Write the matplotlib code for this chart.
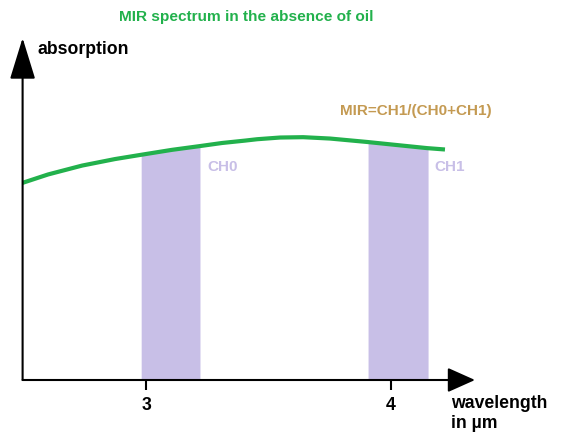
import numpy as np
import matplotlib
matplotlib.use('Agg')
import matplotlib.pyplot as plt

plt.rcParams['font.family'] = ['Liberation Sans', 'DejaVu Sans']

# spectrum (wavelength in um, relative absorption)
wavelength = [2.494, 2.600, 2.739, 2.873, 2.984, 3.106, 3.220, 3.310, 3.404,
              3.453, 3.547, 3.641, 3.751, 3.902, 4.024, 4.147, 4.220]
absorption = [0.576, 0.601, 0.627, 0.646, 0.659, 0.673, 0.684, 0.693, 0.700,
              0.704, 0.709, 0.710, 0.706, 0.696, 0.687, 0.678, 0.674]

# channel bands: edges and the curve height at the edges
ch0_edges = [2.98, 3.22]
ch0_tops = [0.657, 0.684]
ch1_edges = [3.906, 4.151]
ch1_tops = [0.696, 0.678]

ticks = [3, 4]
tick_labels = ['3', '4']

green = '#22b14c'
lavender = '#c8bfe7'
brown = '#c49a52'

W, H = 562, 432
fig = plt.figure(figsize=(W / 100, H / 100), dpi=100)

# axes box in pixels: left 22.6, right 475, bottom 380, top 38
left, right, bottom, top = 22.6, 475, 380, 38
ax = fig.add_axes([left / W, 1 - bottom / H, (right - left) / W, (bottom - top) / H])
ax.set_xlim(2.496, 2.496 + (right - left) / 245)
ax.set_ylim(0, 1)

ax.fill_between(ch0_edges, 0, ch0_tops, color=lavender, lw=0, zorder=1)
ax.fill_between(ch1_edges, 0, ch1_tops, color=lavender, lw=0, zorder=1)
ax.plot(wavelength, absorption, color=green, lw=3, solid_capstyle='butt',
        solid_joinstyle='round', zorder=3)

for s in ax.spines.values():
    s.set_visible(False)

# axis arrows
ax.annotate('', xy=(1, 0), xytext=(0, 0), xycoords='axes fraction',
            arrowprops=dict(arrowstyle='-|>,head_length=0.85,head_width=0.38',
                            mutation_scale=20, lw=1.5, color='black',
                            shrinkA=0, shrinkB=0))
ax.annotate('', xy=(0, 1), xytext=(0, 0), xycoords='axes fraction',
            arrowprops=dict(arrowstyle='-|>,head_length=1.3,head_width=0.4',
                            mutation_scale=20, lw=1.5, color='black',
                            shrinkA=0, shrinkB=0))

ax.set_yticks([])
ax.set_xticks(ticks)
ax.set_xticklabels(tick_labels, fontsize=12.7, fontweight='bold')
ax.tick_params(axis='x', direction='out', length=7, width=1.5, pad=5)

ax.text(3.249, 0.623, 'CH0', color=lavender, fontsize=11, fontweight='bold', va='center')
ax.text(4.176, 0.623, 'CH1', color=lavender, fontsize=11, fontweight='bold', va='center')
ax.text(3.792, 0.787, 'MIR=CH1/(CH0+CH1)', color=brown, fontsize=11,
        fontweight='bold', va='center')

fig.text(246.5 / W, 1 - 17 / H, 'MIR spectrum in the absence of oil', color=green,
         fontsize=11.1, fontweight='bold', ha='center', va='center')
fig.text(38 / W, 1 - 50 / H, 'absorption', fontsize=12.7, fontweight='bold', va='center')
fig.text(451 / W, 1 - 403 / H, 'wavelength', fontsize=12.7, fontweight='bold', va='center')
fig.text(451 / W, 1 - 423 / H, 'in µm', fontsize=12.7, fontweight='bold', va='center')

fig.savefig('out.png', dpi=100)
